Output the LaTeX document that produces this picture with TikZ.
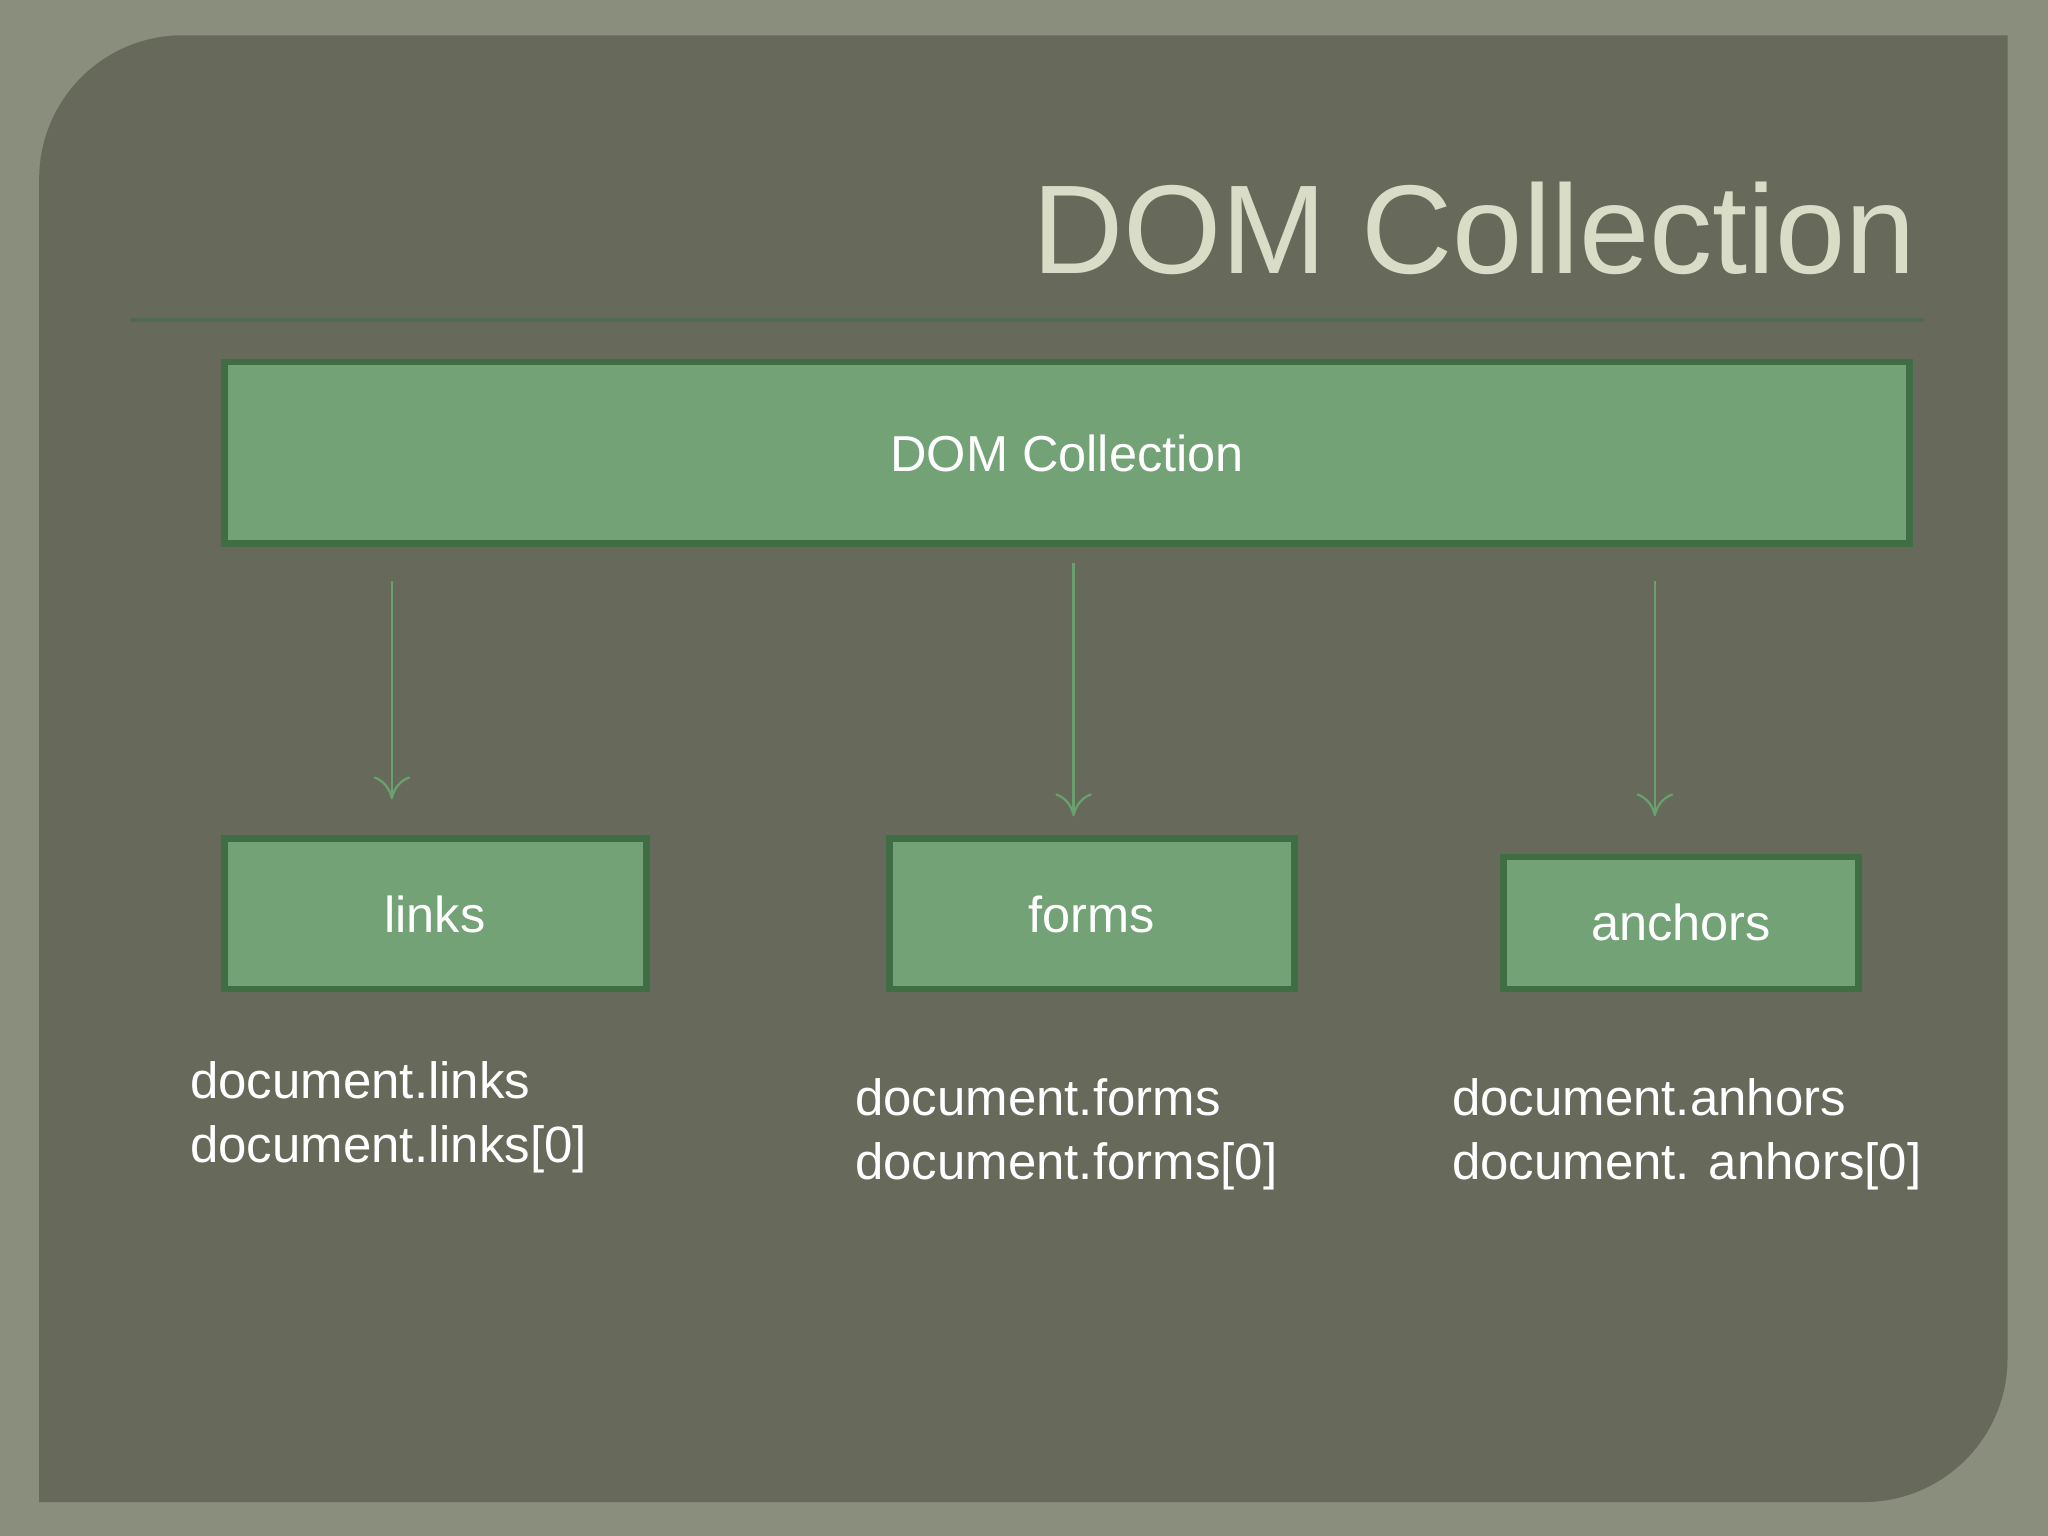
\documentclass[tikz,border=0pt]{standalone}
\usetikzlibrary{arrows.meta}
\usepackage{fontspec}
\setmainfont{Liberation Sans}
\definecolor{outerbg}{HTML}{8A8E7C}
\definecolor{panel}{HTML}{67695A}
\definecolor{titlec}{HTML}{D9DCC6}
\definecolor{rulec}{HTML}{4F6A50}
\definecolor{boxfill}{HTML}{72A276}
\definecolor{boxdraw}{HTML}{3F6E45}
\definecolor{arrc}{HTML}{6A9F6E}
\begin{document}
\begin{tikzpicture}[x=0.01cm,y=-0.01cm,
  gbox/.style={draw=boxdraw,line width=1.4pt,fill=boxfill},
  lbl/.style={text=white,font=\fontsize{11}{13}\selectfont},
  arr/.style={draw=arrc,line width=0.5pt,-{To[length=5pt,width=8pt]}},
  code/.style={text=white,font=\fontsize{11.1}{14}\selectfont,align=left,anchor=north west,inner sep=0pt}]
\fill[outerbg] (0,0) rectangle (1568,1176);
\useasboundingbox (0,0) rectangle (1568,1176);
\fill[panel] (30,1150) -- (30,137) arc[start angle=180,end angle=270,radius=110] -- (1537,27) -- (1537,1040) arc[start angle=0,end angle=90,radius=110] -- cycle;
\node[text=titlec,font=\fontsize{27.5}{32}\selectfont,anchor=east,inner sep=0pt] (title) at (1468,175) {DOM Collection};
\draw[rulec,line width=0.8pt] (100,245) -- (1473,245);
\draw[gbox] (172,277) rectangle (1462,416);
\node[lbl] (dct) at (817,347) {DOM Collection};
\draw[gbox] (172,642) rectangle (495,757);
\node[lbl] (links) at (333,700) {links};
\draw[gbox] (681,642) rectangle (991,757);
\node[lbl] (forms) at (836,700) {forms};
\draw[gbox] (1151,656) rectangle (1423,757);
\node[lbl] (anch) at (1287,706) {anchors};
\coordinate (a1) at (300,445); \coordinate (b1) at (300,612);
\coordinate (a2) at (822,431); \coordinate (b2) at (822,625);
\coordinate (a3) at (1267,445); \coordinate (b3) at (1267,625);
\draw[arr] (a1) -- (b1);
\draw[arr] (a2) -- (b2);
\draw[arr] (a3) -- (b3);
\node[code] (t1) at (145,812) {document.links\\document.links[0]};
\node[code] (t2) at (654,825) {document.forms\\document.forms[0]};
\node[code] (t3) at (1111,825) {document.anhors\\document. anhors[0]};
\end{tikzpicture}
\end{document}
